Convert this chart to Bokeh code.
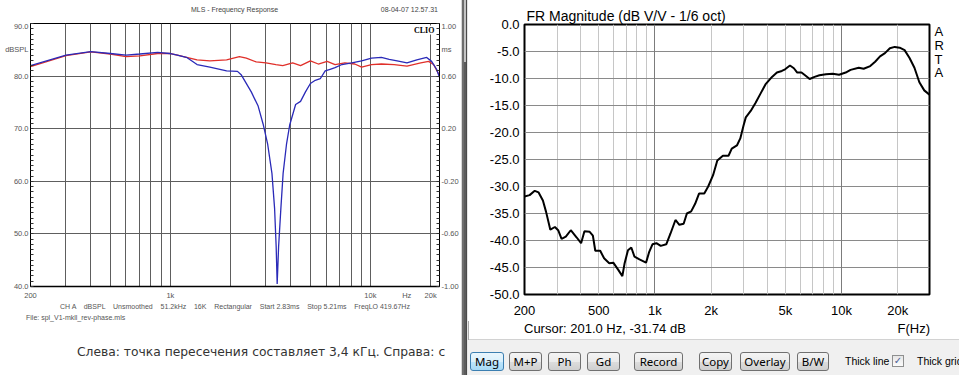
from bokeh.plotting import figure
from bokeh.models import Range1d, LinearAxis, FixedTicker, Grid, Label, Div, PrintfTickFormatter
from bokeh.layouts import row, column
from bokeh.embed import file_html
from bokeh.resources import INLINE

# ---------------- data: left (CLIO) ----------------
clio_blue_hz = [200, 301, 400, 501, 601, 705, 864, 990, 1084, 1214,
                1360, 1576, 1911, 2166, 2266, 2538, 2747, 2908, 3067, 3220,
                3320, 3381, 3420, 3476, 3568, 3662, 3806, 3950, 4229, 4476,
                4737, 5012, 5304, 5615, 5943, 6289, 6657, 7207, 8072, 9042,
                10128, 11343, 12418, 13600, 15234, 17062, 19114, 20226, 21418, 22148]
clio_blue_db = [82.0, 84.0, 84.65, 84.3, 84.0, 84.2, 84.5, 84.3, 84.0, 83.5,
                82.2, 81.7, 81.0, 80.9, 80.2, 77.0, 74.3, 70.9, 67.0, 61.5,
                54.8, 47.5, 40.5, 47.5, 54.8, 61.5, 67.0, 70.7, 74.6, 75.2,
                77.0, 78.6, 79.2, 79.5, 81.0, 81.3, 81.6, 82.2, 82.5, 82.9,
                83.4, 83.55, 83.2, 82.9, 82.5, 83.1, 83.55, 82.8, 81.3, 79.8]
clio_red_hz = [200, 301, 400, 501, 601, 705, 864, 990, 1084, 1360,
               1576, 1911, 2214, 2398, 2686, 3008, 3370, 3648, 4087, 4476,
               5012, 5488, 6079, 6657, 7454, 8351, 9042, 10128, 11343, 13142,
               15234, 17854, 19550, 20692, 22148]
clio_red_db = [81.8, 83.9, 84.6, 84.2, 83.7, 83.85, 84.3, 84.3, 84.0, 83.1,
               82.9, 83.1, 83.7, 83.4, 82.7, 82.5, 82.2, 82.0, 82.5, 82.0,
               82.9, 82.3, 82.8, 82.2, 82.5, 82.3, 81.7, 82.2, 82.3, 82.2,
               81.9, 82.5, 82.8, 82.2, 80.1]

clio_db_ticks = [40, 50, 60, 70, 80, 85, 90]
clio_db_labels = ["40.0", "50.0", "60.0", "70.0", "80.0", "dBSPL", "90.0"]
clio_ms_ticks = [-1.0, -0.6, -0.2, 0.2, 0.6, 0.8, 1.0]
clio_ms_labels = ["-1.00", "-0.60", "-0.20", "0.20", "0.60", "ms", "1.00"]
clio_hz_ticks = [200, 1000, 10000, 15200, 20000]
clio_hz_labels = ["200", "1k", "10k", "Hz", "20k"]
clio_hz_grid = [300, 400, 500, 600, 700, 800, 900, 1000, 2000, 3000, 4000,
                5000, 6000, 7000, 8000, 9000, 10000, 20000]
clio_db_grid = [50, 60, 70, 80]
clio_db_minor = list(range(40, 91))
clio_ms_minor = [round(-1 + 0.04 * i, 2) for i in range(51)]

# ---------------- data: right (ARTA) ----------------
arta_hz = [200, 213, 227, 238, 251, 261, 275, 291, 303, 316,
           333, 354, 380, 402, 419, 447, 465, 479, 509, 534,
           569, 598, 635, 669, 688, 717, 747, 777, 826, 896,
           932, 970, 1018, 1074, 1150, 1212, 1288, 1352, 1425, 1483,
           1564, 1642, 1723, 1838, 1929, 2049, 2159, 2313, 2479, 2580,
           2750, 2867, 2984, 3068, 3260, 3463, 3679, 3910, 4240, 4504,
           4786, 4982, 5292, 5554, 5788, 6100, 6424, 6744, 7168, 7614,
           8256, 8956, 9702, 10520, 11178, 12364, 13134, 14246, 15132, 16080,
           17086, 18152, 19286, 20484, 21766, 23140, 24580, 26120, 27740, 29580]
arta_db = [-31.85, -31.6, -30.8, -31.1, -32.6, -34.7, -38.0, -37.5, -38.1, -39.7,
           -39.3, -38.1, -39.4, -40.5, -38.3, -38.4, -39.1, -41.9, -41.9, -43.3,
           -44.2, -44.1, -45.4, -46.6, -44.2, -41.8, -41.3, -43.0, -43.5, -44.1,
           -42.1, -40.7, -40.5, -41.0, -40.7, -38.7, -36.2, -37.1, -36.9, -35.0,
           -34.6, -33.2, -31.3, -31.3, -30.0, -27.9, -25.2, -24.3, -24.3, -23.0,
           -22.4, -21.1, -18.7, -17.2, -16.0, -14.5, -12.8, -11.1, -9.7, -8.9,
           -8.6, -8.3, -7.6, -8.1, -8.9, -8.9, -9.5, -10.1, -9.7, -9.4,
           -9.2, -9.1, -9.3, -8.9, -8.4, -8.0, -8.2, -7.7, -6.9, -5.9,
           -5.3, -4.4, -4.15, -4.3, -4.75, -6.2, -8.0, -10.7, -12.2, -13.0]
arta_db_ticks = [0, -5, -10, -15, -20, -25, -30, -35, -40, -45, -50]
arta_db_grid = [-5, -10, -15, -20, -25, -30, -35, -40, -45]
arta_hz_ticks = [200, 500, 1000, 2000, 5000, 10000, 20000]
arta_hz_labels = ["200", "500", "1k", "2k", "5k", "10k", "20k"]
arta_decades = [1000, 10000]
arta_minor = [300, 400, 500, 600, 700, 800, 900, 2000, 3000, 4000, 5000,
              6000, 7000, 8000, 9000, 20000]
arta_side_ticks = [-1.25, -3.9, -6.4, -8.9]
arta_side_labels = ["A", "R", "T", "A"]

FONT = "Liberation Sans"
CSSFONT = "'Liberation Sans', Arial, sans-serif"

# ---------------- left figure (CLIO) ----------------
pl = figure(width=461, height=281, x_axis_type="log",
            x_range=Range1d(200, 22150), y_range=Range1d(40, 90),
            output_backend="svg", toolbar_location=None, title=None,
            min_border_left=30, min_border_right=22,
            min_border_top=2, min_border_bottom=16)
pl.background_fill_color = "white"
pl.border_fill_color = "white"
pl.outline_line_color = "black"
pl.outline_line_width = 1

pl.yaxis.ticker = FixedTicker(ticks=clio_db_ticks, minor_ticks=clio_db_minor)
pl.yaxis.major_label_overrides = dict(zip(clio_db_ticks, clio_db_labels))
pl.xaxis.ticker = FixedTicker(ticks=clio_hz_ticks)
pl.xaxis.major_label_overrides = dict(zip(clio_hz_ticks, clio_hz_labels))

pl.extra_y_ranges = {"ms": Range1d(-1, 1)}
ms_axis = LinearAxis(y_range_name="ms",
                     ticker=FixedTicker(ticks=clio_ms_ticks, minor_ticks=clio_ms_minor),
                     major_label_overrides=dict(zip(clio_ms_ticks, clio_ms_labels)))
pl.add_layout(ms_axis, "right")

for ax in [pl.yaxis[0], pl.xaxis[0], ms_axis]:
    ax.major_label_text_font = FONT
    ax.major_label_text_font_size = "7.5px"
    ax.major_label_text_color = "#555555"
    ax.major_tick_in = 0
    ax.major_tick_out = 0
    ax.minor_tick_in = 3
    ax.minor_tick_out = 0
    ax.minor_tick_line_color = "#333333"
    ax.axis_line_color = "black"
    ax.major_label_standoff = 2
pl.xaxis.major_label_standoff = 4
pl.xaxis.axis_line_width = 1.5

pl.xgrid.ticker = FixedTicker(ticks=clio_hz_grid)
pl.ygrid.ticker = FixedTicker(ticks=clio_db_grid)
for g in [pl.xgrid[0], pl.ygrid[0]]:
    g.grid_line_color = "#5e5e5e"
    g.grid_line_width = 1

pl.line(clio_red_hz, clio_red_db, line_color="#e0302a", line_width=1.3)
pl.line(clio_blue_hz, clio_blue_db, line_color="#2a2ab8", line_width=1.3)

pl.add_layout(Label(x=20900, y=89.6, text="CLIO", text_font="Liberation Serif",
                    text_font_style="bold", text_font_size="8px", text_color="black",
                    text_align="right", text_baseline="top",
                    background_fill_color="white"))

# ---------------- right figure (ARTA) ----------------
pr = figure(width=491, height=321, x_axis_type="log",
            x_range=Range1d(200, 29600), y_range=Range1d(-50, 0),
            output_backend="svg", toolbar_location=None,
            min_border_left=56, min_border_right=30,
            min_border_top=24, min_border_bottom=27)
pr.title.text = "FR Magnitude (dB V/V - 1/6 oct)"
pr.title.align = "left"
pr.title.offset = 2
pr.title.standoff = 2
pr.title.text_font = FONT
pr.title.text_font_size = "14px"
pr.title.text_font_style = "normal"
pr.title.text_color = "black"
pr.background_fill_color = "white"
pr.border_fill_color = "white"
pr.outline_line_color = "black"
pr.outline_line_width = 2

pr.yaxis.ticker = FixedTicker(ticks=arta_db_ticks)
pr.yaxis.formatter = PrintfTickFormatter(format="%.1f")
pr.xaxis.ticker = FixedTicker(ticks=arta_hz_ticks)
pr.xaxis.major_label_overrides = dict(zip(arta_hz_ticks, arta_hz_labels))

side_axis = LinearAxis(ticker=FixedTicker(ticks=arta_side_ticks),
                       major_label_overrides=dict(zip(arta_side_ticks, arta_side_labels)))
pr.add_layout(side_axis, "right")

for ax in [pr.yaxis[0], pr.xaxis[0], side_axis]:
    ax.major_label_text_font = FONT
    ax.major_label_text_font_size = "13px"
    ax.major_label_text_color = "black"
    ax.major_tick_in = 0
    ax.major_tick_out = 0
    ax.minor_tick_in = 0
    ax.minor_tick_out = 0
    ax.axis_line_color = None
pr.yaxis.major_label_standoff = 5
pr.xaxis.major_label_standoff = 8
side_axis.major_label_standoff = 5

pr.xgrid.ticker = FixedTicker(ticks=arta_minor)
pr.xgrid.grid_line_color = "#c6c6c6"
pr.ygrid.ticker = FixedTicker(ticks=arta_db_grid)
pr.ygrid.grid_line_color = "#8a8a8a"
pr.add_layout(Grid(dimension=0, ticker=FixedTicker(ticks=arta_decades),
                   grid_line_color="#7c7c7c", grid_line_width=1))

pr.line(arta_hz, arta_db, line_color="black", line_width=2)

# ---------------- decorations (Divs) ----------------
def box(w, h, inner, bg="#ffffff"):
    html = (f'<div style="position:relative;width:{w}px;height:{h}px;overflow:hidden;'
            f'background:{bg};font-family:{CSSFONT};">{inner}</div>')
    return Div(text=html, width=w, height=h, margin=0)

top_left = box(461, 21,
    '<span style="position:absolute;left:0;width:469px;top:6px;text-align:center;'
    'font-size:7px;line-height:8px;color:#444;white-space:nowrap;">MLS - Frequency Response</span>'
    '<span style="position:absolute;right:23px;top:6px;font-size:7px;line-height:8px;'
    'color:#444;white-space:nowrap;">08-04-07 12.57.31</span>')

info = "CH A    dBSPL    Unsmoothed    51.2kHz    16K    Rectangular    Start 2.83ms    Stop 5.21ms    FreqLO 419.67Hz"
bottom_left = box(461, 73,
    f'<span style="position:absolute;left:60px;top:1px;font-size:7px;line-height:8px;'
    f'color:#555;white-space:pre;">{info}</span>'
    '<span style="position:absolute;left:26px;top:12px;font-size:7px;line-height:8px;'
    'color:#555;white-space:pre;">File: spl_V1-mkll_rev-phase.mls</span>'
    '<div style="position:absolute;left:77px;top:43px;width:374px;height:16px;overflow:hidden;'
    "font-family:'DejaVu Sans',sans-serif;font-size:12.3px;line-height:15px;color:#333;"
    'white-space:nowrap;">Слева: точка пересечения составляет 3,4 кГц. Справа: с</div>')

sep = box(7, 375,
    '<div style="position:absolute;left:0;top:0;width:1px;height:375px;background:#d8d8d8"></div>'
    '<div style="position:absolute;left:1px;top:0;width:2px;height:375px;background:#6e6e6e"></div>'
    '<div style="position:absolute;left:3px;top:0;width:2px;height:62px;background:#c4c4c4"></div>'
    '<div style="position:absolute;left:3px;top:62px;width:2px;height:313px;background:#5c5c5c"></div>'
    '<div style="position:absolute;left:5px;top:0;width:1px;height:375px;background:#4a4a4a"></div>'
    '<div style="position:absolute;left:6px;top:0;width:1px;height:375px;background:#e4e4e4"></div>',
    bg="#e4e4e4")

cursor_row = box(491, 19,
    '<span style="position:absolute;left:56px;top:0;font-size:13px;line-height:15px;'
    'color:#000;white-space:nowrap;">Cursor: 201.0 Hz, -31.74 dB</span>'
    '<span style="position:absolute;right:29px;top:0;font-size:13px;line-height:15px;'
    'color:#000;white-space:nowrap;">F(Hz)</span>'
    '<div style="position:absolute;left:0;top:18px;width:491px;height:1px;background:#d2d2d2"></div>'
    '<div style="position:absolute;left:0;top:0;width:1px;height:19px;background:#a8a8a8"></div>')

buttons = [("Mag", 2, 34, True), ("M+P", 41, 33, False), ("Ph", 80, 33, False),
           ("Gd", 119, 33, False), ("Record", 166, 49, False), ("Copy", 231, 33, False),
           ("Overlay", 272, 50, False), ("B/W", 329, 32, False)]
btn_html = ""
for label, left, w, active in buttons:
    if active:
        bgc = "linear-gradient(#eaf6fd 0%,#d9f0fc 50%,#bee6fd 51%,#a7d9f5 100%)"
        bc = "#3c7fb1"
    else:
        bgc = "linear-gradient(#f4f4f4 0%,#ebebeb 50%,#dddddd 51%,#cfcfcf 100%)"
        bc = "#707070"
    btn_html += (f'<div style="position:absolute;left:{left}px;top:12px;width:{w}px;height:19px;'
                 f'box-sizing:border-box;border:1px solid {bc};border-radius:3px;background:{bgc};'
                 f"font-family:'Noto Sans',sans-serif;font-size:11.5px;line-height:17px;"
                 f'text-align:center;color:#000;white-space:nowrap;">{label}</div>')
btn_html += ('<span style="position:absolute;left:377px;top:13px;'
             'font-size:10.5px;line-height:17px;color:#000;white-space:nowrap;">Thick line</span>'
             '<div style="position:absolute;left:424px;top:15px;width:12px;height:12px;box-sizing:border-box;'
             'border:1px solid #8e8f8f;background:linear-gradient(#e6e6e6,#fbfbfb);'
             "font-family:'DejaVu Sans',sans-serif;font-size:10px;line-height:10px;text-align:center;"
             'color:#4a5f97;">&#10003;</div>'
             '<span style="position:absolute;left:449px;top:13px;'
             'font-size:10.5px;line-height:17px;color:#000;white-space:nowrap;">Thick grid</span>')
button_bar = box(491, 35, btn_html, bg="#f0f0f0")

left_col = column(top_left, pl, bottom_left, spacing=0)
right_col = column(pr, cursor_row, button_bar, spacing=0)
page = row(left_col, sep, right_col, spacing=0)

open("out.html", "w").write(file_html(page, INLINE))
